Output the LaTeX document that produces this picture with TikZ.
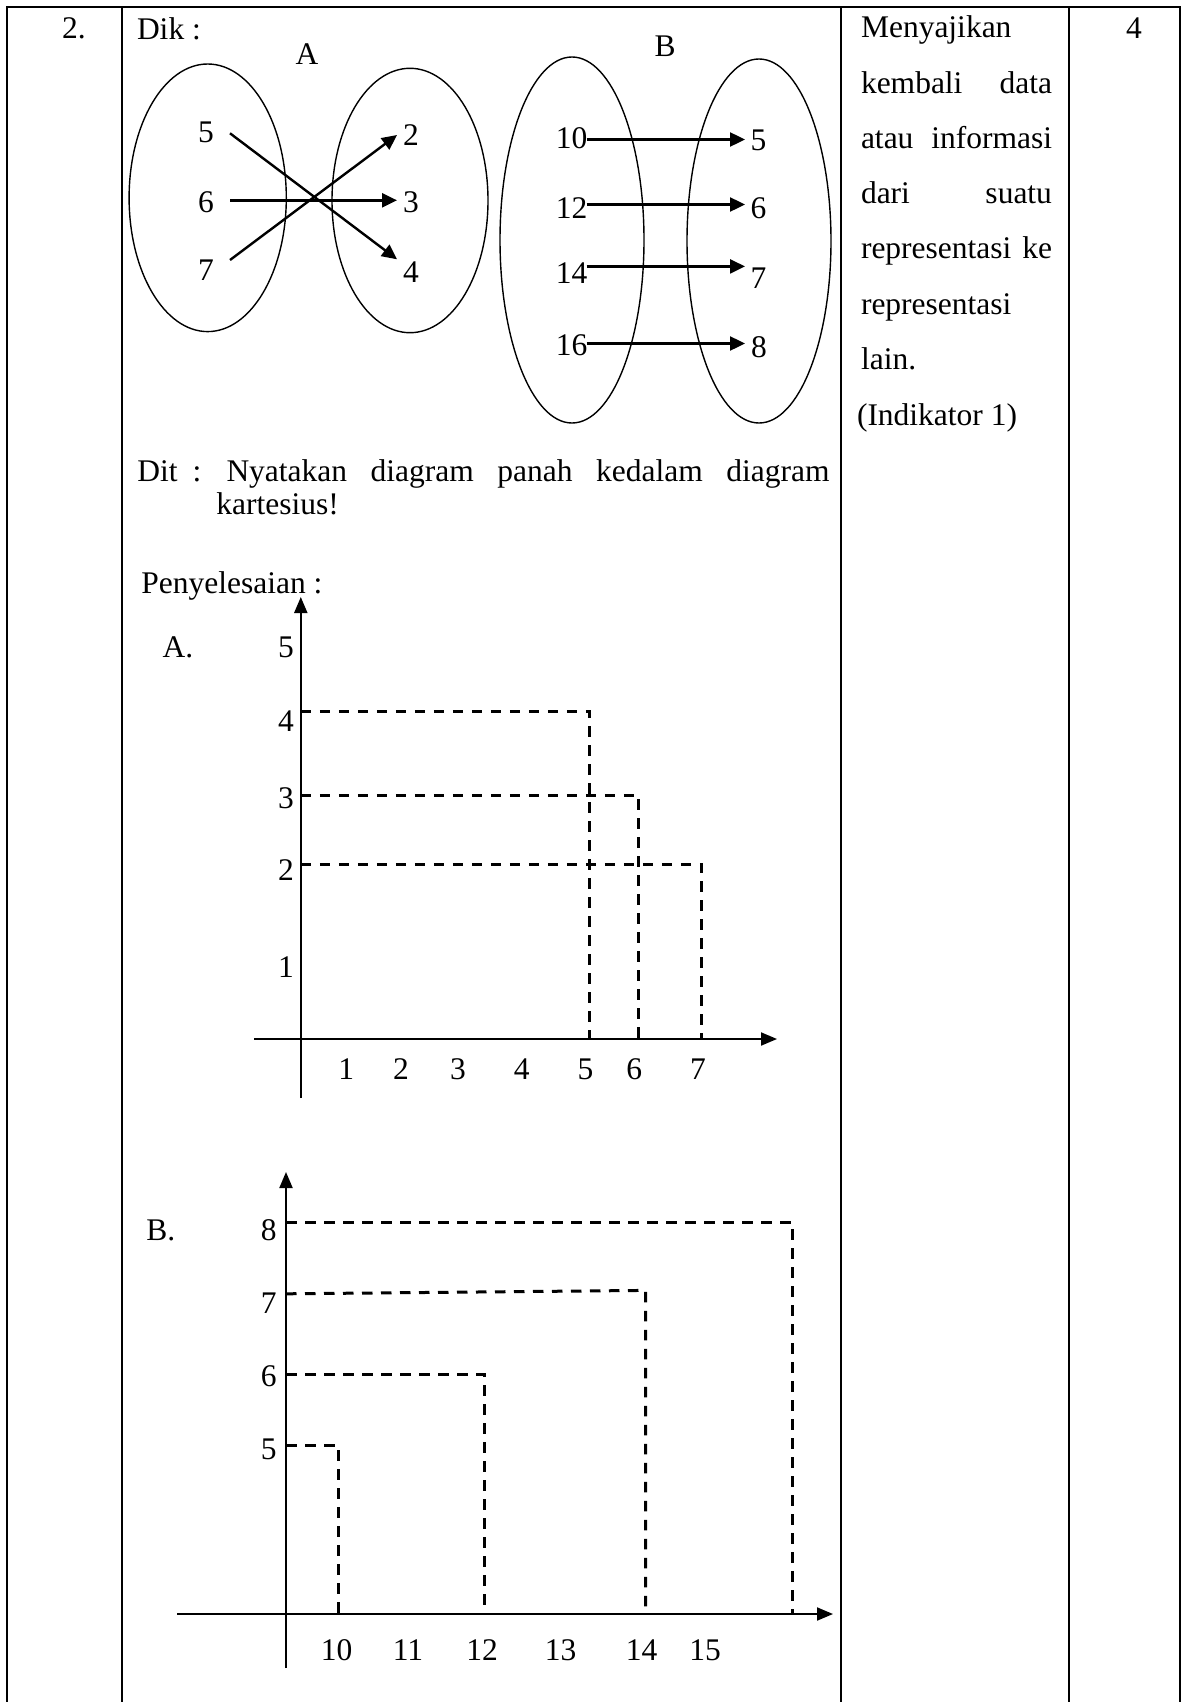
\documentclass[tikz,border=0pt]{standalone}
\usepackage{fontspec}
\setmainfont{Liberation Serif}
\usetikzlibrary{arrows.meta}
\begin{document}
\begin{tikzpicture}[x=1pt,y=-1pt,
  every node/.style={inner sep=0pt, outer sep=0pt, font=\fontsize{31.5}{38}\selectfont},
  lbl/.style={anchor=base},
  lft/.style={anchor=base west},
  tline/.style={line width=2pt},
  setline/.style={line width=1.4pt},
  arr/.style={line width=2.4pt, -{Triangle[length=15pt,width=14pt]}},
  axisline/.style={line width=2pt, -{Triangle[length=16pt,width=13pt]}},
  dline/.style={line width=3pt, dash pattern=on 10.5pt off 8.5pt},
]
\useasboundingbox (0,0) rectangle (1181,1702);
% table
\draw[tline] (7.3,1702) -- (7.3,7.3) -- (1180,7.3) -- (1180,1702);
\draw[tline] (121.7,7.3) -- (121.7,1702);
\draw[tline] (841,7.3) -- (841,1702);
\draw[tline] (1068.5,7.3) -- (1068.5,1702);

\node[lbl] (no) at (74,39) {2.};
\node[lft] (dik) at (137,40) {Dik :};
\node[lbl] (labA) at (307,64) {A};
\node[lbl] (labB) at (665,57) {B};

% column 3
\node[lft] (c1) at (861,38) {Menyajikan};
\node[lft] (c2) at (861,93) {\makebox[191pt][s]{kembali data}};
\node[lft] (c3) at (861,148.2) {\makebox[191pt][s]{atau informasi}};
\node[lft] (c4) at (861,203.5) {\makebox[191pt][s]{dari suatu}};
\node[lft] (c5) at (861,258.8) {\makebox[191pt][s]{representasi ke}};
\node[lft] (c6) at (861,314) {representasi};
\node[lft] (c7) at (861,369.5) {lain.};
\node[lft] (c8) at (857,425) {(Indikator 1)};
\node[lbl] (score) at (1134,39) {4};

% set A
\draw[setline] (207.7,197.8) ellipse [x radius=78.6pt, y radius=133.8pt];
\draw[setline] (410,200.5) ellipse [x radius=78pt, y radius=132.2pt];
\node[lbl] (a5) at (206,142) {5};
\node[lbl] (a6) at (206,212) {6};
\node[lbl] (a7) at (206,280.5) {7};
\node[lbl] (b2) at (411,145.5) {2};
\node[lbl] (b3) at (411,212) {3};
\node[lbl] (b4) at (411,282) {4};
\coordinate (s5) at (230,133.3);
\coordinate (s6) at (230,200.3);
\coordinate (s7) at (230,260);
\coordinate (t2) at (397,135);
\coordinate (t3) at (397,200.3);
\coordinate (t4) at (397,259.3);
\draw[arr] (s5) -- (t4);
\draw[arr] (s6) -- (t3);
\draw[arr] (s7) -- (t2);

% set B
\draw[setline] (572,240) ellipse [x radius=72pt, y radius=183pt];
\draw[setline] (759,241) ellipse [x radius=72pt, y radius=182pt];
\node[lbl] (p10) at (571.5,148.8) {10};
\node[lbl] (p12) at (571.5,218.5) {12};
\node[lbl] (p14) at (571.5,283.5) {14};
\node[lbl] (p16) at (571.7,355.5) {16};
\node[lbl] (q5) at (758.5,150.5) {5};
\node[lbl] (q6) at (758.5,218.5) {6};
\node[lbl] (q7) at (758.5,288.5) {7};
\node[lbl] (q8) at (759,357.5) {8};
\coordinate (u10) at (586.7,139.5);
\coordinate (u12) at (586.7,204.5);
\coordinate (u14) at (586.7,266.4);
\coordinate (u16) at (586.7,343.5);
\coordinate (v5) at (745,139.5);
\coordinate (v6) at (745,204.5);
\coordinate (v7) at (745,266.4);
\coordinate (v8) at (745,343.5);
\draw[arr] (u10) -- (v5);
\draw[arr] (u12) -- (v6);
\draw[arr] (u14) -- (v7);
\draw[arr] (u16) -- (v8);

% question
\node[lft] (dit) at (137.4,481) {Dit};
\node[lbl] (ditc) at (197,481) {:};
\node[lft] (ditq) at (226.5,481) {\makebox[603pt][s]{Nyatakan diagram panah kedalam diagram}};
\node[lft] (kart) at (216.4,514) {kartesius!};
\node[lft] (peny) at (141.4,593) {Penyelesaian :};

% chart A
\node[lbl] (cA) at (178,657) {A.};
\coordinate (AyB) at (300.8,1098);
\coordinate (AyT) at (300.8,597);
\coordinate (AxL) at (254,1039);
\coordinate (AxR) at (777,1039);
\draw[axisline] (AyB) -- (AyT);
\draw[axisline] (AxL) -- (AxR);
\draw[dline] (300.8,711) -- (589.5,711) -- (589.5,1039);
\draw[dline] (300.8,795) -- (638.5,795) -- (638.5,1039);
\draw[dline] (300.8,864) -- (701.5,864) -- (701.5,1039);
\node[lbl] (ay5) at (286,657) {5};
\node[lbl] (ay4) at (286,731) {4};
\node[lbl] (ay3) at (286,808) {3};
\node[lbl] (ay2) at (286,880) {2};
\node[lbl] (ay1) at (286,977) {1};
\node[lbl] (ax1) at (346.3,1079) {1};
\node[lbl] (ax2) at (401,1079) {2};
\node[lbl] (ax3) at (458,1079) {3};
\node[lbl] (ax4) at (521.8,1079) {4};
\node[lbl] (ax5) at (585.6,1079) {5};
\node[lbl] (ax6) at (634.3,1079) {6};
\node[lbl] (ax7) at (698,1079) {7};

% chart B
\node[lbl] (cB) at (160.7,1240) {B.};
\coordinate (ByB) at (286,1668);
\coordinate (ByT) at (286,1172);
\coordinate (BxL) at (177,1614);
\coordinate (BxR) at (833,1614);
\draw[axisline] (ByB) -- (ByT);
\draw[axisline] (BxL) -- (BxR);
\draw[dline] (286,1222.5) -- (792.5,1222.5) -- (792.5,1614);
\draw[dline] (286,1293.8) -- (645.5,1290.4) -- (645.5,1614);
\draw[dline] (286,1374.5) -- (484.5,1374.5) -- (484.5,1614);
\draw[dline] (286,1445.5) -- (338.5,1445.5) -- (338.5,1614);
\node[lbl] (by8) at (268.7,1240) {8};
\node[lbl] (by7) at (268.7,1313) {7};
\node[lbl] (by6) at (268.7,1386.5) {6};
\node[lbl] (by5) at (268.7,1459.5) {5};
\node[lbl] (bx10) at (336.7,1660) {10};
\node[lbl] (bx11) at (408,1660) {11};
\node[lbl] (bx12) at (482,1660) {12};
\node[lbl] (bx13) at (560.5,1660) {13};
\node[lbl] (bx14) at (641.5,1660) {14};
\node[lbl] (bx15) at (705,1660) {15};
\end{tikzpicture}
\end{document}
